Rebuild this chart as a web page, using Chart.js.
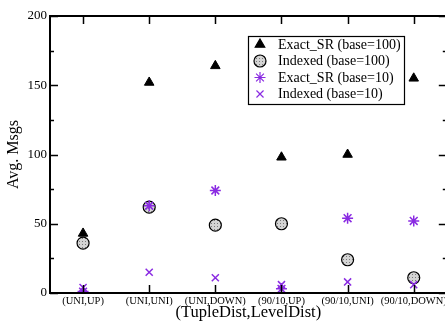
<!DOCTYPE html>
<html>
<head>
<meta charset="utf-8">
<script src="https://cdn.jsdelivr.net/npm/chart.js@4/dist/chart.umd.min.js"></script>
<style>
html,body{margin:0;padding:0;overflow:hidden;background:#fff;width:445px;height:325px;}
#wrap{position:absolute;left:0;top:0;width:454px;height:325px;}
</style>
</head>
<body>
<div id="wrap"><canvas id="c" width="454" height="325"></canvas></div>
<script>
const categories = ['(UNI,UP)','(UNI,UNI)','(UNI,DOWN)','(90/10,UP)','(90/10,UNI)','(90/10,DOWN)'];
const exactSR100 = [43,152,164,98,100,155];
const indexed100 = [36,62,49,50,24,11];
const exactSR10 = [1,63,74,3,54,52];
const indexed10 = [4,15,11,6,8,6];
const seriesNames = ['Exact_SR (base=100)','Indexed (base=100)','Exact_SR (base=10)','Indexed (base=10)'];
const yTicks = [0,50,100,150,200];

const PURPLE = '#8a2be2';
const SERIF = '"Liberation Serif","Times New Roman",serif';

// stipple pattern for the circle markers
const pc = document.createElement('canvas');
pc.width = 3; pc.height = 3;
const pctx = pc.getContext('2d');
pctx.fillStyle = '#d4d4d4'; pctx.fillRect(0,0,3,3);
pctx.fillStyle = '#7a7a7a'; pctx.fillRect(1,1,1,1);
const ctx0 = document.getElementById('c').getContext('2d');
const stipple = ctx0.createPattern(pc,'repeat');

const framePlugin = {
  id:'frame',
  afterDraw(chart){
    const ctx = chart.ctx, a = chart.chartArea;
    const xs = chart.scales.x, ys = chart.scales.y;
    ctx.save();
    ctx.strokeStyle = '#000';
    ctx.lineWidth = 2;
    ctx.strokeRect(a.left, a.top, a.right - a.left, a.bottom - a.top);
    ctx.lineWidth = 1.5;
    ctx.beginPath();
    for (let i = 0; i < categories.length; i++) {
      const x = Math.round(xs.getPixelForValue(i)) + 0.5;
      ctx.moveTo(x, a.bottom); ctx.lineTo(x, a.bottom - 8);
      ctx.moveTo(x, a.top); ctx.lineTo(x, a.top + 8);
    }
    for (let v = 0; v <= 200; v += 25) {
      const y = Math.round(ys.getPixelForValue(v)) + 0.5;
      const len = (v % 50 === 0) ? 8 : 4;
      ctx.moveTo(a.left, y); ctx.lineTo(a.left + len, y);
      ctx.moveTo(a.right, y); ctx.lineTo(a.right - len, y);
    }
    ctx.stroke();

    // category labels (drawn at the scale's own tick positions)
    ctx.fillStyle = '#000';
    ctx.font = '10.5px ' + SERIF;
    ctx.textAlign = 'center';
    ctx.textBaseline = 'middle';
    categories.forEach((c, i) => {
      ctx.fillText(c, xs.getPixelForValue(i), a.bottom + 8.5);
    });

    // legend
    const bx = 248, by = 36, bw = 156, bh = 68;
    ctx.fillStyle = '#fff';
    ctx.fillRect(bx, by, bw, bh);
    ctx.lineWidth = 1.2;
    ctx.strokeRect(bx + 0.5, by + 0.5, bw, bh);
    const rows = [44.5, 61, 77.5, 94];
    chart.data.datasets.forEach((ds, i) => {
      const y = rows[i];
      ctx.save();
      ctx.fillStyle = ds.pointBackgroundColor;
      ctx.strokeStyle = ds.pointBorderColor;
      Chart.helpers.drawPoint(ctx, {
        pointStyle: ds.pointStyle,
        radius: ds.pointRadius,
        rotation: 0,
        borderWidth: ds.pointBorderWidth
      }, 260, y);
      ctx.restore();
      ctx.fillStyle = '#000';
      ctx.font = '14px ' + SERIF;
      ctx.textBaseline = 'middle';
      ctx.textAlign = 'left';
      ctx.fillText(ds.label, 278, y + 0.5);
    });
    ctx.restore();
  }
};

function ds(label, data, style, r, bg, border, bw, order){
  return {
    label, data, showLine:false, order,
    pointStyle: style, pointRadius: r, pointHoverRadius: r,
    pointBackgroundColor: bg, pointBorderColor: border, pointBorderWidth: bw,
    backgroundColor: bg, borderColor: border
  };
}

new Chart(document.getElementById('c'), {
  type:'line',
  data:{
    labels: categories,
    datasets:[
      ds(seriesNames[0], exactSR100, 'triangle', 5.5, '#000', '#000', 1, 4),
      ds(seriesNames[1], indexed100, 'circle', 6, stipple, '#000', 1.2, 3),
      ds(seriesNames[2], exactSR10, 'star', 5.5, PURPLE, PURPLE, 1.5, 1),
      ds(seriesNames[3], indexed10, 'crossRot', 5, PURPLE, PURPLE, 1.5, 2)
    ]
  },
  options:{
    responsive:false,
    animation:false,
    events:[],
    layout:{padding:{left:0, top:16, right:2, bottom:0}},
    plugins:{legend:{display:false}, tooltip:{enabled:false}},
    scales:{
      x:{
        type:'category',
        offset:true,
        grid:{display:false, drawTicks:false},
        border:{display:false},
        ticks:{display:false},
        title:{display:true, text:'(TupleDist,LevelDist)', color:'#000', font:{family:SERIF, size:16.5}, padding:{top:0,bottom:2}},
        afterFit(s){ s.height = 32; }
      },
      y:{
        min:0, max:200,
        grid:{display:false, drawTicks:false},
        border:{display:false},
        afterBuildTicks(s){ s.ticks = yTicks.map(v => ({value:v})); },
        ticks:{color:'#000', font:{family:SERIF, size:13}, padding:3},
        title:{display:true, text:'Avg. Msgs', color:'#000', font:{family:SERIF, size:16}, padding:{top:4,bottom:0}},
        afterFit(s){ s.width = 50; }
      }
    }
  },
  plugins:[framePlugin]
});
</script>
</body>
</html>
